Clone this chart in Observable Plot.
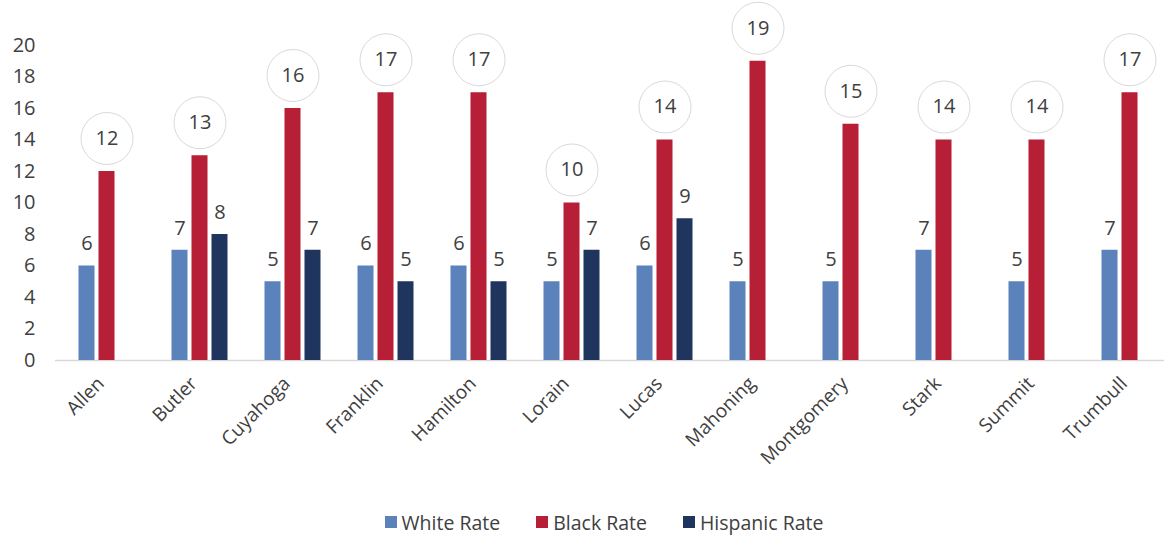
<!DOCTYPE html>
<html>
<head>
<meta charset="utf-8">
<script src="https://cdn.jsdelivr.net/npm/d3@7"></script>
<script src="https://cdn.jsdelivr.net/npm/@observablehq/plot@0.6"></script>
<style>
  html, body { margin: 0; padding: 0; background: #fff; }
  body { width: 1164px; height: 535px; overflow: hidden; font-family: "Open Sans", sans-serif; }
  #legend { display: flex; justify-content: center; align-items: center; gap: 36px; padding-left: 44px; padding-top: 10px; height: 44px; font-size: 19.5px; color: #404040; }
  #legend span.item { display: flex; align-items: center; gap: 5px; }
  #legend span.sw { display: inline-block; width: 12px; height: 12px; }
</style>
</head>
<body>
<div id="chart"></div>
<div id="legend"></div>
<script>
const counties = ["Allen","Butler","Cuyahoga","Franklin","Hamilton","Lorain","Lucas","Mahoning","Montgomery","Stark","Summit","Trumbull"];
const whiteRate = [6,7,5,6,6,5,6,5,5,7,5,7];
const blackRate = [12,13,16,17,17,10,14,19,15,14,14,17];
const hispanicRate = [null,8,7,5,5,7,9,null,null,null,null,null];
const yTicks = [0,2,4,6,8,10,12,14,16,18,20];
const seriesNames = ["White Rate","Black Rate","Hispanic Rate"];
const seriesColors = ["#5b82bb","#b71f36","#1f355e"];

const rows = (vals) => counties.map((c,i) => ({county: c, value: vals[i]})).filter(d => d.value != null);
const white = rows(whiteRate), black = rows(blackRate), hisp = rows(hispanicRate);

const inset = 26.5;
const chart = Plot.plot({
  width: 1164, height: 490,
  marginLeft: 55, marginRight: 0, marginTop: 45, marginBottom: 130,
  style: {fontFamily: "'Open Sans', sans-serif", fontSize: "20px", color: "#404040", background: "#fff"},
  x: {domain: counties, paddingInner: 0.262, paddingOuter: 0.0615, align: 1, label: null, axis: null},
  y: {domain: [0,20], ticks: yTicks, tickSize: 0, tickPadding: 20, label: null},
  marks: [
    Plot.axisX({tickRotate: -45, tickSize: 0, tickPadding: 20, dx: -6, label: null, fontSize: 19}),
    Plot.ruleY([0], {stroke: "#d9d9d9", strokeWidth: 1.5}),
    Plot.barY(white, {x: "county", y: "value", dx: -20, insetLeft: inset, insetRight: inset, fill: seriesColors[0]}),
    Plot.barY(black, {x: "county", y: "value", insetLeft: inset, insetRight: inset, fill: seriesColors[1]}),
    Plot.barY(hisp, {x: "county", y: "value", dx: 20, insetLeft: inset, insetRight: inset, fill: seriesColors[2]}),
    Plot.text(white, {x: "county", y: "value", text: d => String(d.value), dx: -20, dy: -22, fill: "#404040", fontSize: 20}),
    Plot.text(hisp, {x: "county", y: "value", text: d => String(d.value), dx: 20, dy: -22, fill: "#404040", fontSize: 20}),
    Plot.dot(black, {x: "county", y: "value", dy: -33, r: 26, fill: "#fff", stroke: "#d9d9d9", strokeWidth: 1}),
    Plot.text(black, {x: "county", y: "value", text: d => String(d.value), dy: -33, fill: "#404040", fontSize: 20})
  ]
});
document.getElementById("chart").appendChild(chart);

const lg = document.getElementById("legend");
seriesNames.forEach((n,i) => {
  const it = document.createElement("span"); it.className = "item";
  const sw = document.createElement("span"); sw.className = "sw"; sw.style.background = seriesColors[i];
  const tx = document.createElement("span"); tx.textContent = n;
  it.appendChild(sw); it.appendChild(tx); lg.appendChild(it);
});
</script>
</body>
</html>
